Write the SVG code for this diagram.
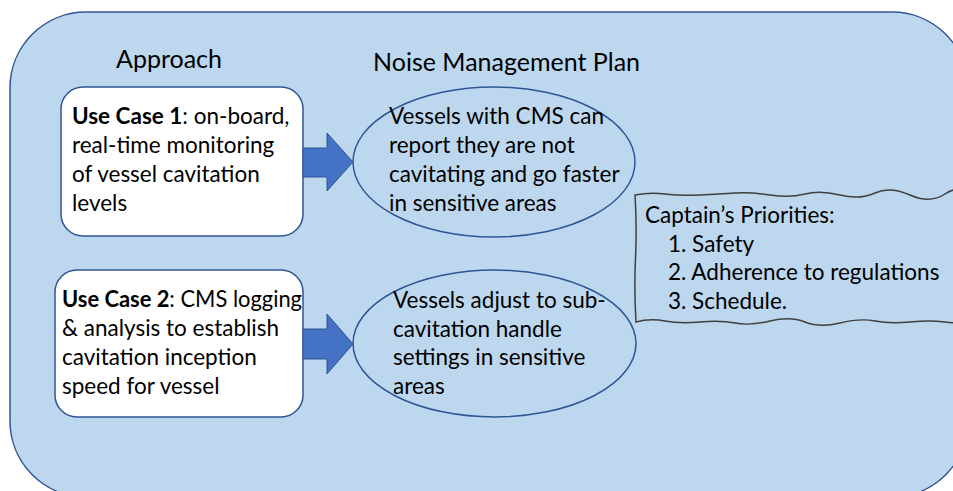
<svg xmlns="http://www.w3.org/2000/svg" width="953" height="491" viewBox="0 0 953 491">
  <style>
    .t { font-family: Lato, "Open Sans", "Liberation Sans", sans-serif; font-size: 22.5px; fill: #000; }
    .h { font-family: Lato, "Open Sans", "Liberation Sans", sans-serif; font-size: 25px; fill: #000; }
    .b { font-weight: bold; }
    .case { fill: #ffffff; stroke: #2f5597; stroke-width: 1.5; }
    .plan { fill: none; stroke: #2f5597; stroke-width: 1.5; }
    .arrow { fill: #4472c4; stroke: #2f5597; stroke-width: 1; }
  </style>
  <rect width="953" height="491" fill="#ffffff"/>

  <!-- background panel -->
  <g id="panel">
    <rect x="10" y="12" width="958" height="485" rx="76" ry="76" fill="#bdd7ee" stroke="#2f5597" stroke-width="1.5"/>
  </g>

  <!-- column headings -->
  <g id="headings">
    <text class="h" x="116" y="68">Approach</text>
    <text class="h" x="373" y="71">Noise Management Plan</text>
  </g>

  <!-- approach use cases -->
  <g id="use-case-1">
    <rect class="case" x="61" y="87" width="242" height="149" rx="22" ry="22"/>
    <text class="t" x="72" y="124"><tspan class="b">Use Case 1</tspan>: on-board,</text>
    <text class="t" x="72" y="153">real-time monitoring</text>
    <text class="t" x="72" y="182">of vessel cavitation</text>
    <text class="t" x="72" y="211">levels</text>
  </g>
  <g id="use-case-2">
    <rect class="case" x="55" y="270" width="248" height="147" rx="22" ry="22"/>
    <text class="t" x="62" y="307" textLength="240" lengthAdjust="spacingAndGlyphs"><tspan class="b">Use Case 2</tspan>: CMS logging</text>
    <text class="t" x="62" y="336">&amp; analysis to establish</text>
    <text class="t" x="62" y="365">cavitation inception</text>
    <text class="t" x="62" y="394">speed for vessel</text>
  </g>

  <!-- connectors -->
  <g id="connectors">
    <path class="arrow" d="M303 148 H327 V133 L353 162 L327 191 V177 H303 Z"/>
    <path class="arrow" d="M303 329 H327 V314 L353 344 L327 374 V359 H303 Z"/>
  </g>

  <!-- noise management plan outcomes -->
  <g id="plan-1">
    <ellipse class="plan" cx="494" cy="162" rx="141" ry="75"/>
    <text class="t" x="389" y="124">Vessels with CMS can</text>
    <text class="t" x="389" y="153">report they are not</text>
    <text class="t" x="389" y="182">cavitating and go faster</text>
    <text class="t" x="389" y="211">in sensitive areas</text>
  </g>
  <g id="plan-2">
    <ellipse class="plan" cx="494.5" cy="343.5" rx="141.5" ry="73.5"/>
    <text class="t" x="393" y="308">Vessels adjust to sub-</text>
    <text class="t" x="393" y="337">cavitation handle</text>
    <text class="t" x="393" y="365">settings in sensitive</text>
    <text class="t" x="393" y="394">areas</text>
  </g>

  <!-- captain's priorities note -->
  <g id="priorities">
    <path d="M635 195 Q650 192 665 194 T700 195 T735 193 T770 195 T805 194 T840 195 T875 193 T910 195 T945 194 T975 195
             V322
             H975 Q960 324 945 322 T910 322 T875 321 T840 323 T805 322 T770 321 T735 323 T700 322 T665 321 T636 322
             Q634 290 635.5 258 T635 195 Z"
          fill="#bdd7ee" stroke="#404040" stroke-width="1.5"/>
    <text class="t" x="645" y="223">Captain’s Priorities:</text>
    <text class="t" x="668" y="252">1. Safety</text>
    <text class="t" x="668" y="280">2. Adherence to regulations</text>
    <text class="t" x="668" y="309">3. Schedule.</text>
  </g>
</svg>
